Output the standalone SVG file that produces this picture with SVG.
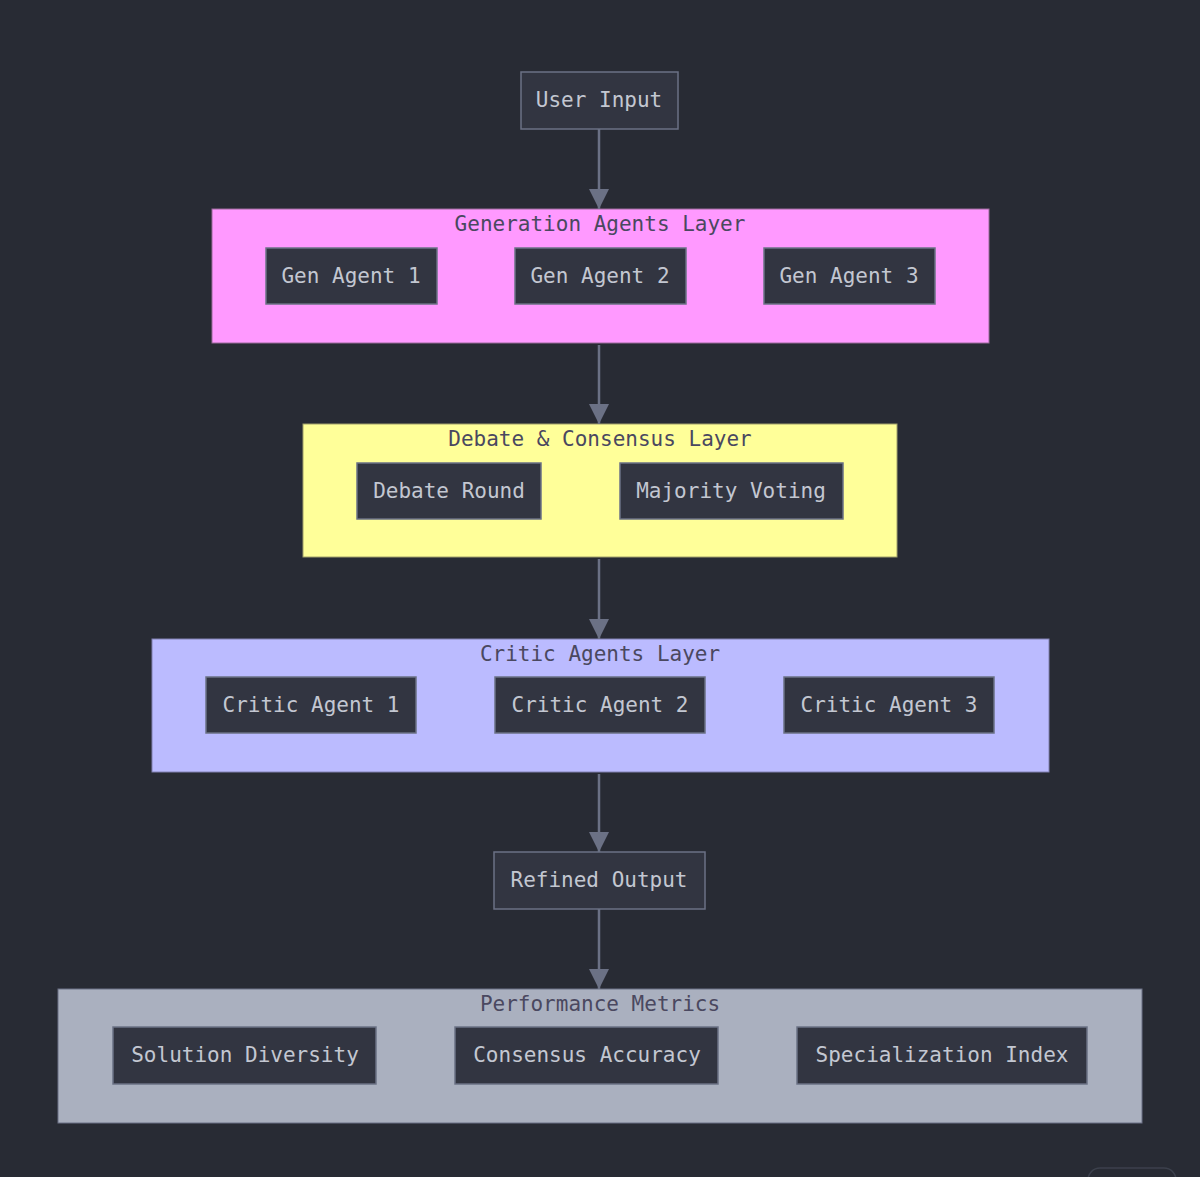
<svg xmlns="http://www.w3.org/2000/svg" width="1200" height="1177" viewBox="0 0 1200 1177">
<style>
.node rect{fill:#323541;stroke:#6b7185;stroke-width:1.5}
.node text{fill:#c3c7d1;font-family:"DejaVu Sans Mono",monospace;font-size:21px;text-anchor:middle;dominant-baseline:central}
.ct{fill:#4a4860;font-family:"DejaVu Sans Mono",monospace;font-size:21px;text-anchor:middle;dominant-baseline:central}
.edge{stroke:#6b7185;stroke-width:2.5;fill:none}
</style>
<defs><marker id="a" viewBox="0 0 10 10" refX="10" refY="5" markerWidth="7" markerHeight="7" markerUnits="userSpaceOnUse" orient="auto"><path d="M0,0L10,5L0,10z" fill="#6b7185"/></marker>
<marker id="ah" viewBox="0 0 20 20" refX="20" refY="10" markerWidth="20" markerHeight="20" markerUnits="userSpaceOnUse" orient="auto"><path d="M0,0L20,10L0,20z" fill="#6b7185"/></marker></defs>
<rect width="1200" height="1177" fill="#282b34"/>
<g id="clusters">
<g id="gen"><rect x="212" y="209" width="777" height="134" fill="#ff99ff" stroke="#9a6a9a"/><text class="ct" x="600" y="224">Generation Agents Layer</text></g>
<g id="debate"><rect x="303" y="424" width="594" height="133" fill="#ffff99" stroke="#a0a06a"/><text class="ct" x="600" y="439">Debate &amp; Consensus Layer</text></g>
<g id="critic"><rect x="152" y="639" width="897" height="133" fill="#bbbbff" stroke="#8080b0"/><text class="ct" x="600" y="654">Critic Agents Layer</text></g>
<g id="metrics"><rect x="58" y="989" width="1084" height="134" fill="#aab0bf" stroke="#6b7185"/><text class="ct" x="600" y="1004">Performance Metrics</text></g>
</g>
<g id="connectors">
<line class="edge" x1="599" y1="129" x2="599" y2="209" marker-end="url(#ah)"/>
<line class="edge" x1="599" y1="345" x2="599" y2="424" marker-end="url(#ah)"/>
<line class="edge" x1="599" y1="559" x2="599" y2="639" marker-end="url(#ah)"/>
<line class="edge" x1="599" y1="774" x2="599" y2="852" marker-end="url(#ah)"/>
<line class="edge" x1="599" y1="909" x2="599" y2="989" marker-end="url(#ah)"/>
</g>
<g id="user" class="node"><rect x="521" y="72" width="157" height="57"/><text x="599" y="100">User Input</text></g>
<g id="g1" class="node"><rect x="266" y="248" width="171" height="56"/><text x="351" y="276">Gen Agent 1</text></g>
<g id="g2" class="node"><rect x="515" y="248" width="171" height="56"/><text x="600" y="276">Gen Agent 2</text></g>
<g id="g3" class="node"><rect x="764" y="248" width="171" height="56"/><text x="849" y="276">Gen Agent 3</text></g>
<g id="d1" class="node"><rect x="357" y="463" width="184" height="56"/><text x="449" y="491">Debate Round</text></g>
<g id="d2" class="node"><rect x="620" y="463" width="223" height="56"/><text x="731" y="491">Majority Voting</text></g>
<g id="c1" class="node"><rect x="206" y="677" width="210" height="56"/><text x="311" y="705">Critic Agent 1</text></g>
<g id="c2" class="node"><rect x="495" y="677" width="210" height="56"/><text x="600" y="705">Critic Agent 2</text></g>
<g id="c3" class="node"><rect x="784" y="677" width="210" height="56"/><text x="889" y="705">Critic Agent 3</text></g>
<g id="out" class="node"><rect x="494" y="852" width="211" height="57"/><text x="599" y="880">Refined Output</text></g>
<g id="m1" class="node"><rect x="113" y="1027" width="263" height="57"/><text x="245" y="1055">Solution Diversity</text></g>
<g id="m2" class="node"><rect x="455" y="1027" width="263" height="57"/><text x="587" y="1055">Consensus Accuracy</text></g>
<g id="m3" class="node"><rect x="797" y="1027" width="290" height="57"/><text x="942" y="1055">Specialization Index</text></g>
<rect x="1088" y="1168" width="88" height="30" rx="12" fill="none" stroke="#3c404c" stroke-width="1.5"/>
</svg>
